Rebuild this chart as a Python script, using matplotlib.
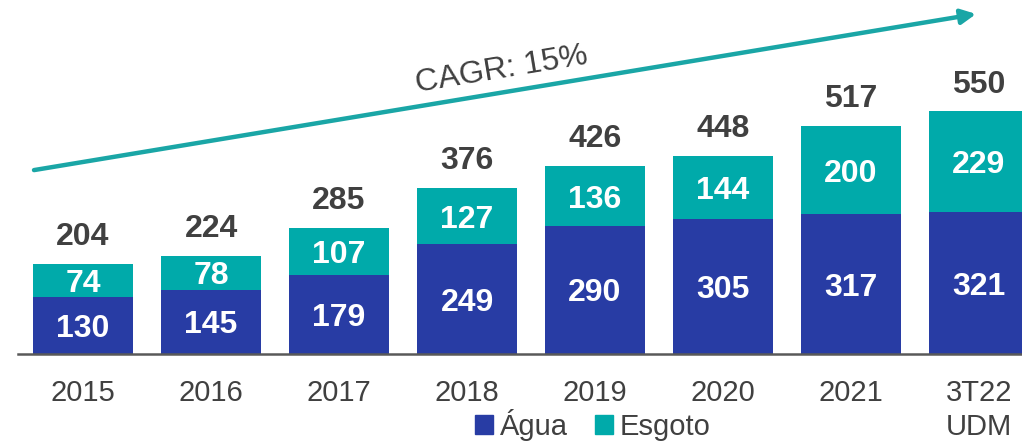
import numpy as np
import matplotlib
matplotlib.use('Agg')
import matplotlib.pyplot as plt
from matplotlib.patches import Patch

# dados (R$ milhões)
periodos = ['2015', '2016', '2017', '2018', '2019', '2020', '2021', '3T22\nUDM']
agua = [130, 145, 179, 249, 290, 305, 317, 321]
esgoto = [74, 78, 107, 127, 136, 144, 200, 229]
totais = [204, 224, 285, 376, 426, 448, 517, 550]
cagr_texto = 'CAGR: 15%'

cor_agua = '#283CA4'
cor_esgoto = '#00AAAA'
cor_texto = '#404040'

plt.rcParams['font.family'] = ['Liberation Sans', 'DejaVu Sans']

fig = plt.figure(figsize=(10.22, 4.42), dpi=100)
ax = fig.add_axes([18 / 1022, 88 / 442, 1004 / 1022, 354 / 442])

x = np.arange(len(periodos))
largura = 0.78
ax.bar(x, agua, largura, color=cor_agua, label='Água')
ax.bar(x, esgoto, largura, bottom=agua, color=cor_esgoto, label='Esgoto')

# rótulos dentro das barras
fs = 23
cap = 0.716 * fs
for i in range(len(x)):
    ax.annotate(str(agua[i]), (x[i], agua[i] / 2), xytext=(0, -cap / 2),
                textcoords='offset points', ha='center', va='baseline',
                color='white', fontsize=fs, fontweight='bold')
    ax.annotate(str(esgoto[i]), (x[i], agua[i] + esgoto[i] / 2), xytext=(0, -cap / 2),
                textcoords='offset points', ha='center', va='baseline',
                color='white', fontsize=fs, fontweight='bold')
    ax.annotate(str(totais[i]), (x[i], agua[i] + esgoto[i]), xytext=(0, 13.5),
                textcoords='offset points', ha='center', va='baseline',
                color=cor_texto, fontsize=fs, fontweight='bold')

# seta do CAGR
ax.annotate('', xy=(6.977, 771), xytext=(-0.383, 417),
            arrowprops=dict(arrowstyle='-|>', color='#1AA6A6', lw=3.2,
                            mutation_scale=22, shrinkA=0, shrinkB=0))
ax.text(3.27, 644, cagr_texto, rotation=9.4, rotation_mode='anchor',
        ha='center', va='center', fontsize=23, color=cor_texto)

ax.set_xlim(-0.508, 7.336)
ax.set_ylim(0, 802.7)
ax.set_xticks(x)
ax.set_xticklabels(periodos, fontsize=21, color=cor_texto, linespacing=1.28)
ax.tick_params(axis='x', length=0, pad=18)
ax.set_yticks([])
for lado in ['top', 'right', 'left']:
    ax.spines[lado].set_visible(False)
ax.spines['bottom'].set_color('#595959')
ax.spines['bottom'].set_linewidth(1.8)

handles = [Patch(color=cor_agua, label='Água'), Patch(color=cor_esgoto, label='Esgoto')]
fig.legend(handles=handles, loc='center', bbox_to_anchor=(593 / 1022, 1 - 425 / 442),
           ncol=2, frameon=False, fontsize=21, handlelength=0.62, handleheight=0.62,
           handletextpad=0.25, columnspacing=0.9, labelcolor=cor_texto,
           borderpad=0, borderaxespad=0)

fig.savefig('out.png', dpi=100)
